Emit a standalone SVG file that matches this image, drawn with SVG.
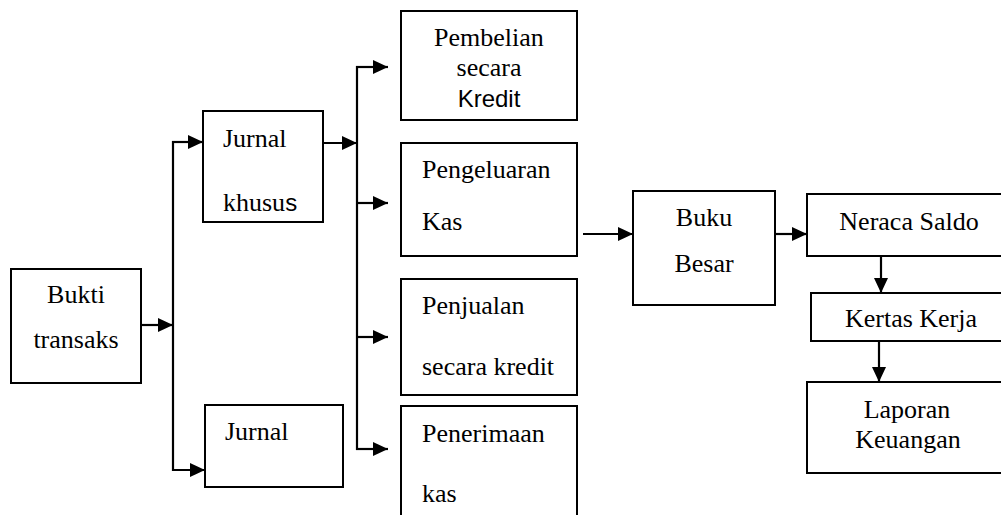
<svg xmlns="http://www.w3.org/2000/svg" width="1001" height="515" viewBox="0 0 1001 515">
<style>
.box{fill:#fff;stroke:#000;stroke-width:2}
text{font-family:'Liberation Serif','DejaVu Serif',serif;font-size:26px;fill:#000}
.c{text-anchor:middle}
.s{font-family:'Liberation Sans','DejaVu Sans',sans-serif;font-size:24px}
.ln{fill:none;stroke:#000;stroke-width:2.2}
.ar{marker-end:url(#ah)}
</style>
<defs>
<marker id="ah" markerUnits="userSpaceOnUse" markerWidth="16" markerHeight="15" refX="15" refY="7" orient="auto">
<path d="M0,0 L15,7 L0,14 z" fill="#000"/>
</marker>
</defs>
<rect width="1001" height="515" fill="#fff"/>
<g id="connectors">
<line class="ln ar" x1="141" y1="325" x2="173" y2="325"/>
<line class="ln" x1="173" y1="141" x2="173" y2="471"/>
<line class="ln ar" x1="172" y1="142" x2="203" y2="142"/>
<line class="ln ar" x1="172" y1="470" x2="205" y2="470"/>
<line class="ln ar" x1="323" y1="143" x2="357" y2="143"/>
<line class="ln" x1="357" y1="66" x2="357" y2="450"/>
<line class="ln ar" x1="356" y1="67" x2="388" y2="67"/>
<line class="ln ar" x1="356" y1="203" x2="388" y2="203"/>
<line class="ln ar" x1="356" y1="337" x2="388" y2="337"/>
<line class="ln ar" x1="356" y1="449" x2="388" y2="449"/>
<line class="ln ar" x1="583" y1="234" x2="633" y2="234"/>
<line class="ln ar" x1="775" y1="234" x2="807" y2="234"/>
<line class="ln ar" x1="881" y1="257" x2="881" y2="293"/>
<line class="ln ar" x1="879" y1="341" x2="879" y2="382"/>
</g>
<g id="bukti">
<rect class="box" x="11" y="269" width="130" height="114"/>
<text class="c" x="76" y="303">Bukti</text>
<text class="c" x="76" y="348">transaks</text>
</g>
<g id="jurnal-khusus">
<rect class="box" x="203" y="111" width="120" height="111"/>
<text x="223" y="147">Jurnal</text>
<text x="223" y="211">khusu<tspan class="s">s</tspan></text>
</g>
<g id="jurnal">
<rect class="box" x="205" y="405" width="138" height="82"/>
<text x="225" y="440">Jurnal</text>
</g>
<g id="pembelian">
<rect class="box" x="401" y="11" width="176" height="109"/>
<text class="c" x="489" y="46">Pembelian</text>
<text class="c" x="489" y="76">secara</text>
<text class="c s" x="489" y="107">Kredit</text>
</g>
<g id="pengeluaran">
<rect class="box" x="401" y="143" width="176" height="113"/>
<text x="422" y="178">Pengeluaran</text>
<text x="422" y="230">Kas</text>
</g>
<g id="penjualan">
<rect class="box" x="401" y="279" width="176" height="116"/>
<text x="422" y="314">Penjualan</text>
<text x="422" y="375">secara kredit</text>
</g>
<g id="penerimaan">
<rect class="box" x="401" y="406" width="176" height="120"/>
<text x="422" y="442">Penerimaan</text>
<text x="422" y="502">kas</text>
</g>
<g id="buku-besar">
<rect class="box" x="633" y="191" width="142" height="114"/>
<text class="c" x="704" y="226">Buku</text>
<text class="c" x="704" y="272">Besar</text>
</g>
<g id="neraca-saldo">
<rect class="box" x="807" y="194" width="210" height="62"/>
<text class="c" x="909" y="230">Neraca Saldo</text>
</g>
<g id="kertas-kerja">
<rect class="box" x="811" y="293" width="210" height="48"/>
<text class="c" x="911" y="327">Kertas Kerja</text>
</g>
<g id="laporan-keuangan">
<rect class="box" x="807" y="382" width="210" height="91"/>
<text class="c" x="907" y="418">Laporan</text>
<text class="c" x="908" y="448">Keuangan</text>
</g>
</svg>
